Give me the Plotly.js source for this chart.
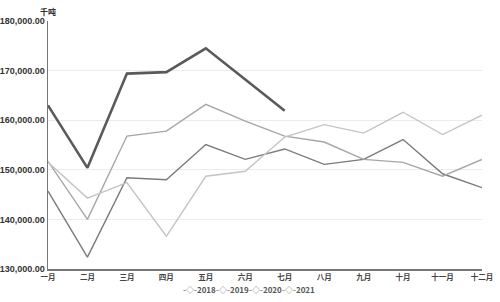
<!DOCTYPE html>
<html>
<head>
<meta charset="utf-8">
<script src="https://cdn.plot.ly/plotly-3.0.1.min.js"></script>
<style>html,body{margin:0;padding:0;background:#fff;}#chart{width:500px;height:302px;}</style>
</head>
<body>
<div id="chart"></div>
<script>
var months = ['一月','二月','三月','四月','五月','六月','七月','八月','九月','十月','十一月','十二月'];
var years = ['2018','2019','2020','2021'];
var v2018 = [145700,132400,148400,148000,155100,152100,154200,151100,152100,156100,149200,146400];
var v2019 = [151700,140000,156800,157800,163200,159800,156800,155600,152100,151500,148700,152100];
var v2020 = [151500,144300,147400,136600,148700,149700,156600,159100,157400,161600,157100,161000];
var v2021 = [163000,150400,169400,169700,174500,168200,161900];
var series = [v2018, v2019, v2020, v2021];
var colors = ['#7a7a7a', '#a6a6a6', '#c4c4c4', '#5a5a5a'];
var widths = [1.4, 1.4, 1.4, 2.6];
var yTicks = [130000,140000,150000,160000,170000,180000];

var traces = [];
series.forEach(function(vals, i){
  traces.push({
    x: months.slice(0, vals.length), y: vals, type: 'scatter', mode: 'lines',
    name: years[i], showlegend: false,
    line: {color: colors[i], width: widths[i]}, hoverinfo: 'skip'
  });
});

// legend built as text entries below the plot
var annotations = [{
  text: '千吨', xref: 'paper', yref: 'paper', x: 0, y: 1, xanchor: 'center', yanchor: 'bottom',
  yshift: 2, showarrow: false, font: {size: 8, color: '#333', weight: 'bold'}
}];
var legendStartPx = 182, legendStepPx = 33, plotLeft = 48, plotW = 434;
years.forEach(function(yr, i){
  annotations.push({
    text: '<span style="color:#8a8a8a">-◇-</span>' + yr,
    xref: 'paper', yref: 'paper',
    x: (legendStartPx + i * legendStepPx - plotLeft) / plotW, y: -0.081,
    xanchor: 'left', yanchor: 'middle', showarrow: false, borderpad: 0,
    font: {size: 8, color: '#555', weight: 'bold', family: 'Liberation Sans Narrow, Noto Sans CJK SC, sans-serif'}
  });
});

var layout = {
  width: 500, height: 302,
  margin: {l: 48, r: 18, t: 21, b: 33},
  paper_bgcolor: '#fff', plot_bgcolor: '#fff',
  font: {family: 'Noto Sans CJK SC, Noto Sans, sans-serif', color: '#333'},
  showlegend: false,
  xaxis: {
    type: 'category', categoryorder: 'array', categoryarray: months,
    range: [0, 11], showgrid: false, zeroline: false,
    showline: true, linecolor: '#777', linewidth: 1.5,
    ticks: '', tickfont: {size: 7.5, color: '#444', weight: 'bold'}
  },
  yaxis: {
    range: [130000, 180000], tickvals: yTicks, tickformat: ',.2f',
    showgrid: true, gridcolor: '#ececec', gridwidth: 1, zeroline: false,
    showline: true, linecolor: '#777', linewidth: 1.5,
    ticks: '', ticklen: 0,
    tickfont: {size: 9, color: '#333', weight: 'bold', family: 'Liberation Sans Narrow, Liberation Sans, sans-serif'},
    automargin: false
  },
  annotations: annotations
};
Plotly.newPlot('chart', traces, layout, {displayModeBar: false, staticPlot: true});
</script>
</body>
</html>
